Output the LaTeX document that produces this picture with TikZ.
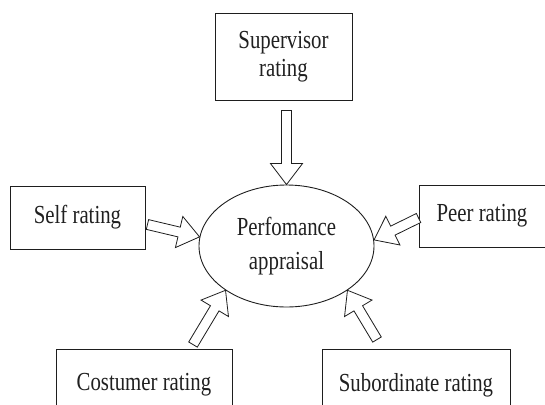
\documentclass[tikz,border=0pt]{standalone}
\usepackage{fontspec}
\setmainfont{Liberation Serif}[FakeStretch=0.8]
\usetikzlibrary{
  shapes.geometric,
  positioning,
  calc
}
\definecolor{inkLine}{HTML}{1E1E1E}
\definecolor{inkTxt}{HTML}{202020}
\tikzset{
  rate box/.style={
    rectangle, align=center, inner sep=0pt,
    draw=inkLine, line width=0.9pt, text=inkTxt,
    font=\fontsize{26}{28}\selectfont
  },
  hub/.style={
    ellipse, align=center, inner sep=0pt,
    draw=inkLine, line width=0.9pt, text=inkTxt,
    font=\fontsize{26}{34}\selectfont
  },
  hollow arr/.style={
    draw=inkLine, fill=white, line width=0.8pt, line join=miter,
    to path={
      ($(\tikztostart)!5pt!90:(\tikztotarget)$)
      -- ($($(\tikztotarget)!21pt!(\tikztostart)$)!5pt!90:(\tikztotarget)$)
      -- ($($(\tikztotarget)!21pt!(\tikztostart)$)!16pt!90:(\tikztotarget)$)
      -- (\tikztotarget)
      -- ($($(\tikztotarget)!21pt!(\tikztostart)$)!16pt!-90:(\tikztotarget)$)
      -- ($($(\tikztotarget)!21pt!(\tikztostart)$)!5pt!-90:(\tikztotarget)$)
      -- ($(\tikztostart)!5pt!-90:(\tikztotarget)$)
      -- cycle
    }
  }
}
\begin{document}
\begin{tikzpicture}[x=1pt, y=-1pt]
  \useasboundingbox (0,0) rectangle (545,404);

  % centre
  \node[hub, minimum width=175pt, minimum height=122pt] (perf)
    at (286.5,246) {Perfomance\\appraisal};

  % sources of rating
  \node[rate box, minimum width=137pt, minimum height=87pt] (sup)
    at (283.5,56.5) {Supervisor\\rating};
  \node[rate box, minimum width=135pt, minimum height=63pt] (self)
    at (77.5,217.5) {Self rating};
  \node[rate box, minimum width=140pt, minimum height=62pt] (peer)
    at (489,216) {\hspace*{-14pt}Peer rating};
  \node[rate box, minimum width=176pt, minimum height=72pt] (cost)
    at (144,385) {Costumer rating};
  \node[rate box, minimum width=188pt, minimum height=72pt] (sub)
    at (416,385) {Subordinate rating};

  % arrow tails
  \coordinate (sup tail) at ($(sup.south)+(3,10)$);
  \coordinate (self tail) at ($(self.east)+(2,7)$);
  \coordinate (peer tail) at ($(peer.west)+(0,2)$);
  \coordinate (cost tail) at ($(cost.north)+(49,-4)$);
  \coordinate (sub tail) at ($(sub.north)+(-39,-9)$);

  \draw[hollow arr] (sup tail) to (perf.north);
  \draw[hollow arr] (self tail) to (perf.174);
  \draw[hollow arr] (peer tail) to (perf.4);
  \draw[hollow arr] (cost tail) to (perf.216);
  \draw[hollow arr] (sub tail) to (perf.324);

\end{tikzpicture}
\end{document}
